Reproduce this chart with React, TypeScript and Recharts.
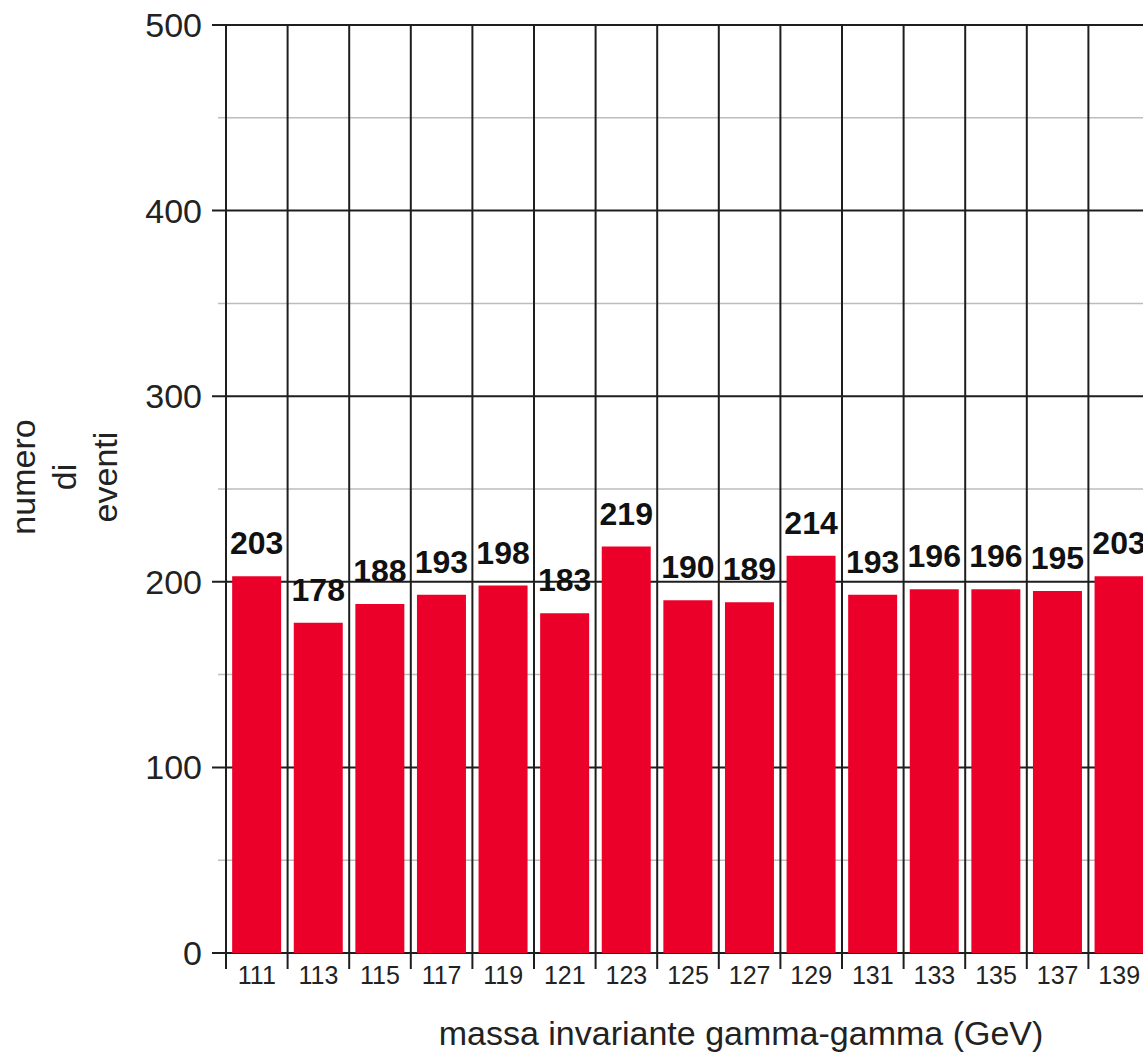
import { BarChart, Bar, XAxis, YAxis, CartesianGrid, LabelList } from 'recharts';

// masse invarianti (centri dei bin, GeV) e conteggi
const masses = [111, 113, 115, 117, 119, 121, 123, 125, 127, 129, 131, 133, 135, 137, 139];
const events = [203, 178, 188, 193, 198, 183, 219, 190, 189, 214, 193, 196, 196, 195, 203];
const yTicks = [0, 50, 100, 150, 200, 250, 300, 350, 400, 450, 500];

const data = masses.map((m, i) => ({ mass: m, events: events[i] }));

const FONT = '"Liberation Sans", Arial, sans-serif';

const GridRow = (props: any) => {
  const major = props.index % 2 === 0;
  return (
    <line
      x1={props.x1 - (major ? 14 : 8)}
      x2={props.x2}
      y1={props.y1}
      y2={props.y2}
      stroke={major ? '#1e1e1e' : '#bdbdbd'}
      strokeWidth={major ? 2 : 1.5}
    />
  );
};

const GridCol = (props: any) => (
  <line x1={props.x1} x2={props.x2} y1={props.y1} y2={props.y2} stroke="#1e1e1e" strokeWidth={2} />
);

// linee verticali sui bordi dei bin, non al centro
const binBorders = ({ offset }: any) => {
  const n = masses.length;
  const out: number[] = [];
  for (let i = 0; i <= n; i++) out.push(offset.left + (i * offset.width) / n);
  return out;
};

const MassTick = (props: any) => {
  const { x, y, payload, width, visibleTicksCount } = props;
  const band = width && visibleTicksCount ? width / visibleTicksCount : 61.6;
  const left = x - band / 2;
  return (
    <g>
      <line x1={left} x2={left} y1={y - 13} y2={y + 3} stroke="#1e1e1e" strokeWidth={2} />
      <text x={x} y={y} dy="0.71em" textAnchor="middle" fontSize={25} fill="#222" fontFamily={FONT}>
        {payload.value}
      </text>
    </g>
  );
};

const YTitle = () => {
  const cy = 477;
  const lines = ['numero', 'di', 'eventi'];
  const base = [35, 76, 117];
  return (
    <g>
      {lines.map((l, i) => (
        <text
          key={l}
          x={base[i]}
          y={cy}
          transform={`rotate(-90 ${base[i]} ${cy})`}
          textAnchor="middle"
          fontSize={34}
          fill="#222"
          fontFamily={FONT}
        >
          {l}
        </text>
      ))}
    </g>
  );
};

const XTitle = (props: any) => {
  const vb = props.viewBox || { x: 226, y: 953, width: 924, height: 99 };
  return (
    <text
      x={vb.x + vb.width / 2 + 53}
      y={vb.y + vb.height - 7}
      textAnchor="middle"
      fontSize={34}
      fill="#222"
      fontFamily={FONT}
    >
      massa invariante gamma-gamma (GeV)
    </text>
  );
};

const App = () => {
  return (
    <div style={{ position: 'absolute', left: 0, top: 0, width: 1143, height: 1052, overflow: 'hidden', background: '#fff' }}>
      <BarChart
        width={1170}
        height={1052}
        data={data}
        margin={{ top: 25, right: 20, left: 0, bottom: 0 }}
        barCategoryGap="10%"
        style={{ fontFamily: FONT }}
      >
        <CartesianGrid
          verticalCoordinatesGenerator={binBorders}
          syncWithTicks
          horizontal={GridRow}
          vertical={GridCol}
        />
        <XAxis
          dataKey="mass"
          tickLine={false}
          axisLine={false}
          tickSize={0}
          tickMargin={13}
          interval={0}
          height={99}
          tick={<MassTick />}
          label={<XTitle />}
        />
        <YAxis
          domain={[0, 500]}
          ticks={yTicks}
          interval={0}
          width={226}
          axisLine={false}
          tickLine={false}
          tickSize={14}
          tickMargin={10}
          tickFormatter={(v: number) => (v % 100 === 0 ? String(v) : '')}
          tick={{ fill: '#222', fontSize: 34, fontFamily: FONT }}
          label={<YTitle />}
        />
        <Bar dataKey="events" fill="#EB0029" isAnimationActive={false}>
          <LabelList
            dataKey="events"
            position="top"
            offset={22}
            fill="#111"
            fontSize={32}
            fontWeight="bold"
            fontFamily={FONT}
          />
        </Bar>
      </BarChart>
    </div>
  );
};

export default App;
